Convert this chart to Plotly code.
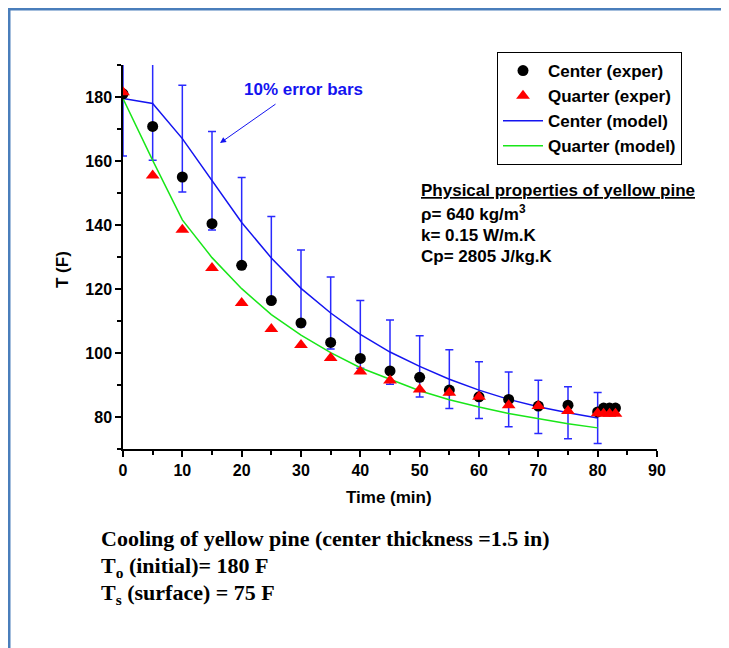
import plotly.graph_objects as go

# ---------------- data ----------------
time_model = [0, 5, 10, 15, 20, 25, 30, 35, 40, 45, 50, 55, 60, 65, 70, 75, 80]
center_model = [179.5, 178.0, 167.0, 153.8, 140.8, 129.7, 120.2, 112.5, 105.8,
                100.3, 95.8, 91.8, 88.4, 85.5, 83.2, 81.3, 79.7]
quarter_model = [179.5, 160.2, 141.6, 129.8, 120.1, 112.0, 105.6, 100.1, 95.4,
                 91.8, 88.2, 85.4, 83.1, 81.1, 79.4, 77.9, 76.6]

time_exp = [0, 5, 10, 15, 20, 25, 30, 35, 40, 45, 50, 55, 60, 65, 70, 75, 80, 81, 82, 83]
center_exp = [181.0, 170.8, 155.0, 140.4, 127.4, 116.4, 109.4, 103.3, 98.3, 94.4,
              92.4, 88.4, 86.3, 85.5, 83.4, 83.7, 81.6, 82.8, 82.8, 82.8]
quarter_exp = [181.5, 155.5, 138.5, 126.6, 115.6, 107.5, 102.5, 98.4, 94.2, 91.4,
               88.6, 87.6, 86.3, 83.7, 83.4, 81.9, 81.2, 81.0, 81.0, 81.0]

error_percent = 10

x_ticks = [0, 10, 20, 30, 40, 50, 60, 70, 80, 90]
y_ticks = [80, 100, 120, 140, 160, 180]

# ---------------- layout helpers ----------------
OFF = 8                      # page body margin
W, H = 729 - OFF, 648 - OFF
L, R, T, B = 123 - OFF, 657 - OFF, 65 - OFF, 449 - OFF   # plot area (figure px)


def px(xp):
    """screen x pixel -> paper x"""
    return (xp - OFF - L) / (R - L)


def py(yp):
    """screen y pixel -> paper y"""
    return (B - (yp - OFF)) / (B - T)


SANS = "Liberation Sans, Arial, sans-serif"
SERIF = "Liberation Serif, Times New Roman, serif"
BLUE = "#1414f0"
GREEN = "#19e619"

fig = go.Figure()

# error bars (10% of the center model)
fig.add_trace(go.Scatter(
    x=time_model, y=center_model, mode="markers",
    marker=dict(size=1, color="rgba(0,0,0,0)"),
    error_y=dict(type="percent", value=error_percent, color="#2a2aff",
                 thickness=1.5, width=4),
    showlegend=False, hoverinfo="skip"))

fig.add_trace(go.Scatter(
    x=time_model, y=center_model, mode="lines", name="<b>Center (model)</b>",
    line=dict(color=BLUE, width=1.5), legendrank=3))
fig.add_trace(go.Scatter(
    x=time_model, y=quarter_model, mode="lines", name="<b>Quarter (model)</b>",
    line=dict(color=GREEN, width=1.5), legendrank=4))
fig.add_trace(go.Scatter(
    x=time_exp, y=center_exp, mode="markers", name="<b>Center (exper)</b>",
    marker=dict(symbol="circle", size=11, color="black"), legendrank=1))
fig.add_trace(go.Scatter(
    x=time_exp, y=quarter_exp, mode="markers", name="<b>Quarter (exper)</b>",
    marker=dict(symbol="triangle-up", size=12, color="red"), legendrank=2))

axis_common = dict(
    showline=True, linecolor="black", linewidth=1.5, showgrid=False,
    zeroline=False, ticks="outside", ticklen=6, tickwidth=1.5, tickcolor="black",
    tickfont=dict(family=SANS, size=16, color="black", weight="bold"),
)

fig.update_xaxes(range=[0, 90], tickmode="array", tickvals=x_ticks,
                 minor=dict(dtick=5, ticklen=4, tickwidth=1.5, ticks="outside",
                            tickcolor="black"),
                 **axis_common)
fig.update_yaxes(range=[70, 190], tickmode="array", tickvals=y_ticks,
                 minor=dict(tick0=70, dtick=10, ticklen=4, tickwidth=1.5,
                            ticks="outside", tickcolor="black"),
                 **axis_common)

annotations = [
    # axis titles
    dict(x=px(389), y=py(497), xref="paper", yref="paper", text="<b>Time (min)</b>",
         showarrow=False, font=dict(family=SANS, size=17, color="black"),
         xanchor="center", yanchor="middle"),
    dict(x=px(62), y=py(270), xref="paper", yref="paper", text="<b>T (F)</b>",
         showarrow=False, textangle=-90, font=dict(family=SANS, size=17, color="black"),
         xanchor="center", yanchor="middle"),
    # error bar label and arrow
    dict(x=30.4, y=182.5, xref="x", yref="y", text="<b>10% error bars</b>",
         showarrow=False, font=dict(family=SANS, size=17, color=BLUE),
         xanchor="center", yanchor="middle"),
    dict(x=16.35, y=165.6, xref="x", yref="y", text="", showarrow=True,
         ax=57, ay=-40, axref="pixel", ayref="pixel",
         arrowhead=2, arrowsize=1.2, arrowwidth=1, arrowcolor=BLUE, standoff=0),
]

props = ["<b><u>Physical properties of yellow pine</u></b>",
         "<b>ρ= 640 kg/m<sup>3</sup></b>",
         "<b>k= 0.15 W/m.K</b>",
         "<b>Cp= 2805 J/kg.K</b>"]
props_y = [190, 213, 235, 256]
for txt, yy in zip(props, props_y):
    annotations.append(dict(x=px(419), y=py(yy), xref="paper", yref="paper", text=txt,
                            showarrow=False, font=dict(family=SANS, size=17, color="black"),
                            xanchor="left", yanchor="middle", align="left"))

notes = ["<b>Cooling of yellow pine (center thickness =1.5 in)</b>",
         "<b>T<sub>o</sub> (initial)= 180 F</b>",
         "<b>T<sub>s</sub> (surface) = 75 F</b>"]
notes_y = [538, 567, 594]
for txt, yy in zip(notes, notes_y):
    annotations.append(dict(x=px(99), y=py(yy), xref="paper", yref="paper", text=txt,
                            showarrow=False, font=dict(family=SERIF, size=22, color="black"),
                            xanchor="left", yanchor="middle", align="left"))

shapes = [
    dict(type="line", xref="paper", yref="paper", x0=px(9), x1=px(9),
         y0=py(8), y1=py(660), line=dict(color="#4a7ebb", width=3)),
    dict(type="line", xref="paper", yref="paper", x0=px(8), x1=px(740),
         y0=py(9), y1=py(9), line=dict(color="#4a7ebb", width=3)),
]

fig.update_layout(
    width=W, height=H,
    margin=dict(l=L, r=W - R, t=T, b=H - B, autoexpand=False),
    paper_bgcolor="white", plot_bgcolor="white",
    showlegend=True,
    legend=dict(x=px(497), y=py(52), xanchor="left", yanchor="top",
                bordercolor="black", borderwidth=1, bgcolor="white",
                font=dict(family=SANS, size=17, color="black"),
                tracegroupgap=0, itemwidth=40),
    annotations=annotations,
    shapes=shapes,
)

fig.write_html("out.html")
